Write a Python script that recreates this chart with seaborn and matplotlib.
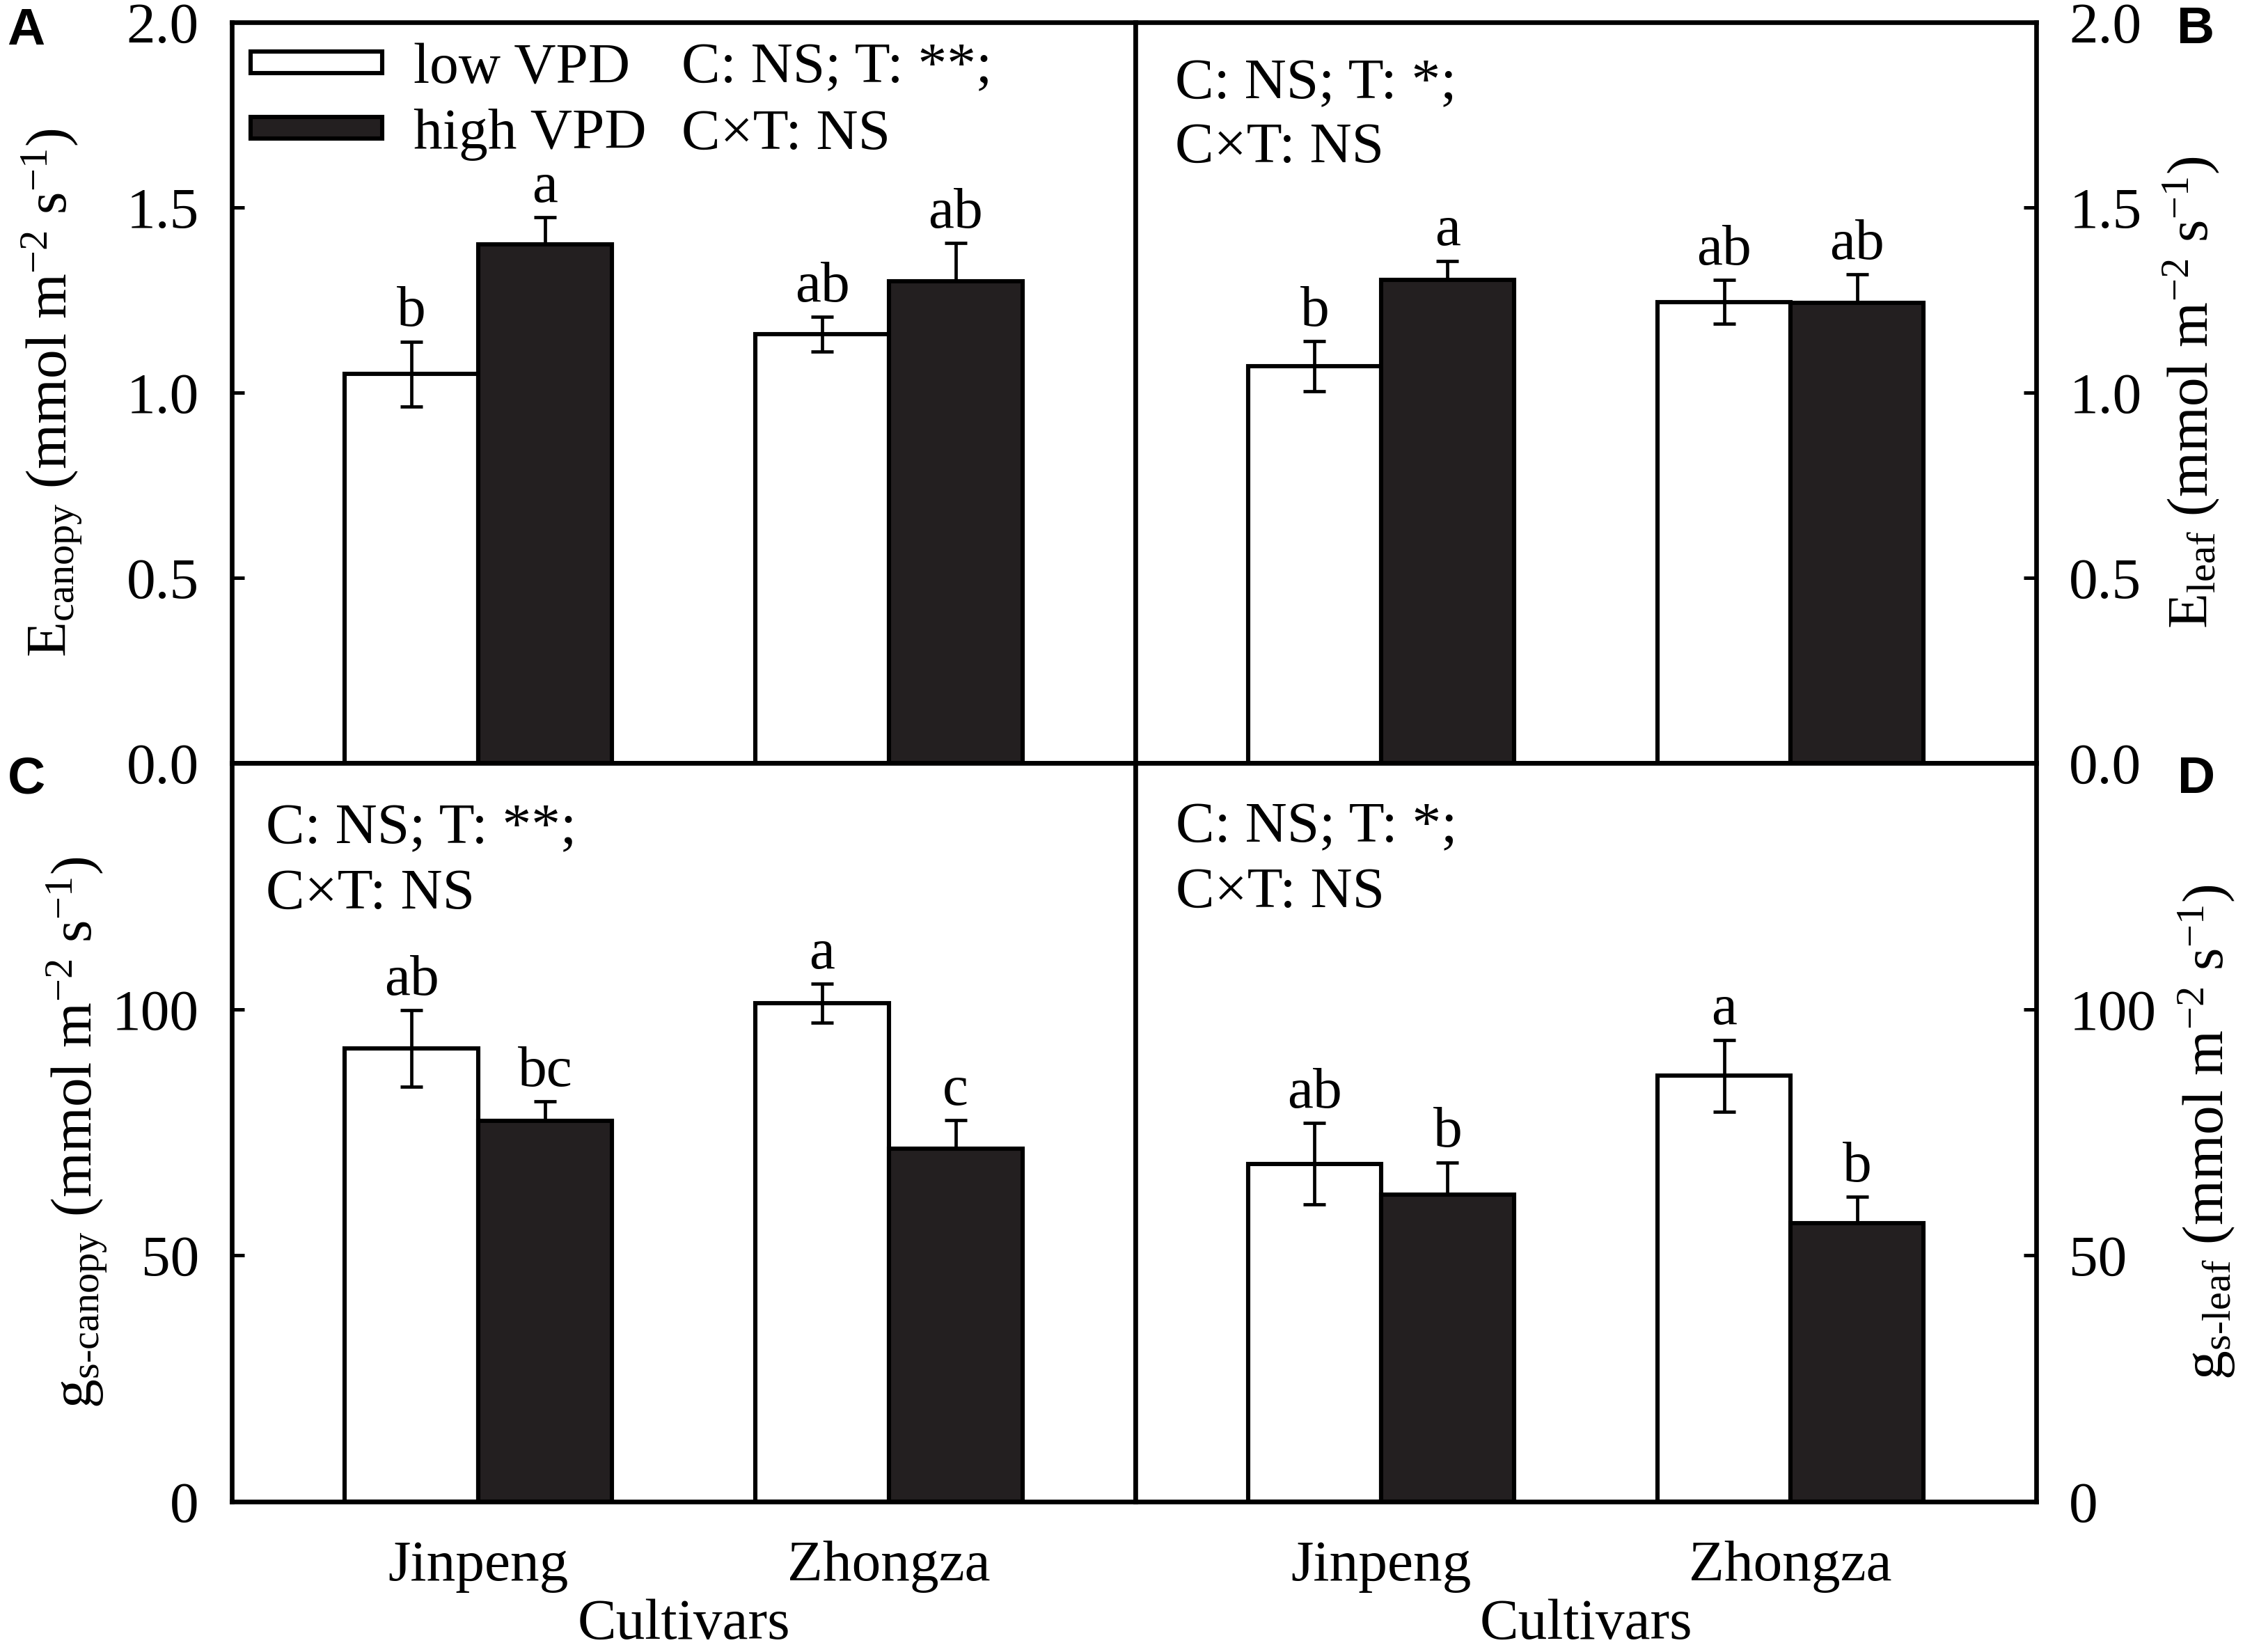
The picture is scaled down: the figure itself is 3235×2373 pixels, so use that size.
import pandas as pd
import seaborn as sns
import matplotlib.pyplot as plt
from matplotlib.ticker import FormatStrFormatter

cultivars = ['Jinpeng', 'Zhongza']
treatments = ['low VPD', 'high VPD']
bar_colors = {'low VPD': 'white', 'high VPD': '#231f20'}

# A: E canopy
e_canopy_low = [1.05, 1.157]
e_canopy_low_se = [0.088, 0.047]
e_canopy_high = [1.401, 1.301]
e_canopy_high_se = [0.073, 0.103]
e_canopy_letters_low = ['b', 'ab']
e_canopy_letters_high = ['a', 'ab']

# B: E leaf
e_leaf_low = [1.071, 1.245]
e_leaf_low_se = [0.068, 0.059]
e_leaf_high = [1.304, 1.242]
e_leaf_high_se = [0.052, 0.077]
e_leaf_letters_low = ['b', 'ab']
e_leaf_letters_high = ['a', 'ab']

# C: gs canopy
gs_canopy_low = [92.0, 101.2]
gs_canopy_low_se = [7.8, 4.0]
gs_canopy_high = [77.3, 71.7]
gs_canopy_high_se = [4.0, 5.8]
gs_canopy_letters_low = ['ab', 'a']
gs_canopy_letters_high = ['bc', 'c']

# D: gs leaf
gs_leaf_low = [68.6, 86.5]
gs_leaf_low_se = [8.3, 7.3]
gs_leaf_high = [62.4, 56.6]
gs_leaf_high_se = [6.5, 5.3]
gs_leaf_letters_low = ['ab', 'a']
gs_leaf_letters_high = ['b', 'b']

stats_two_star = ['C: NS; T: **;', 'C\u00d7T: NS']
stats_one_star = ['C: NS; T: *;', 'C\u00d7T: NS']

FS = 30

sns.set_style('ticks')
plt.rcParams['font.family'] = ['Liberation Serif', 'DejaVu Serif']
plt.rcParams['mathtext.fontset'] = 'custom'
plt.rcParams['mathtext.rm'] = 'Liberation Serif'
plt.rcParams['mathtext.it'] = 'Liberation Serif:italic'
plt.rcParams['axes.linewidth'] = 2.4
for key in ['text.color', 'axes.labelcolor', 'axes.edgecolor', 'xtick.color', 'ytick.color']:
    plt.rcParams[key] = 'black'


def draw_panel(ax, low, low_se, high, high_se, let_low, let_high, legend=False):
    df = pd.DataFrame({
        'cultivar': cultivars * 2,
        'vpd': [treatments[0]] * 2 + [treatments[1]] * 2,
        'value': low + high,
    })
    sns.barplot(data=df, x='cultivar', y='value', hue='vpd', order=cultivars,
                hue_order=treatments, palette=bar_colors, saturation=1,
                edgecolor='black', linewidth=2.2, width=0.65, errorbar=None,
                legend=legend, ax=ax)
    for cont, means, ses, letters, dark in zip(ax.containers, [low, high], [low_se, high_se],
                                               [let_low, let_high], [False, True]):
        xs = [b.get_x() + b.get_width() / 2 for b in cont]
        lower = [0] * len(ses) if dark else ses
        ax.errorbar(xs, means, yerr=[lower, ses], fmt='none', ecolor='black',
                    elinewidth=1.7, capsize=5.8, capthick=1.7, zorder=4)
        for x, m, s, t in zip(xs, means, ses, letters):
            ax.annotate(t, (x, m + s), xytext=(0, 8), textcoords='offset points',
                        ha='center', va='baseline', fontsize=FS)
    ax.set_xlim(-0.6, 1.6)
    ax.tick_params(axis='x', length=0, labelsize=FS, pad=20)
    ax.tick_params(axis='y', direction='in', length=6.5, width=1.8, pad=17, labelsize=FS)
    for sp in ax.spines.values():
        sp.set_visible(True)
        sp.set_linewidth(2.4)
        sp.set_color('black')
    ax.set_xlabel('')


fig = plt.figure(figsize=(16.175, 11.865), dpi=200)
L, M, R = 0.10294, 0.50417, 0.90417
B0, MID, T = 0.09102, 0.53814, 0.98651
axA = fig.add_axes([L, MID, M - L, T - MID])
axB = fig.add_axes([M, MID, R - M, T - MID])
axC = fig.add_axes([L, B0, M - L, MID - B0])
axD = fig.add_axes([M, B0, R - M, MID - B0])

draw_panel(axA, e_canopy_low, e_canopy_low_se, e_canopy_high, e_canopy_high_se,
           e_canopy_letters_low, e_canopy_letters_high, legend=True)
draw_panel(axB, e_leaf_low, e_leaf_low_se, e_leaf_high, e_leaf_high_se,
           e_leaf_letters_low, e_leaf_letters_high)
draw_panel(axC, gs_canopy_low, gs_canopy_low_se, gs_canopy_high, gs_canopy_high_se,
           gs_canopy_letters_low, gs_canopy_letters_high)
draw_panel(axD, gs_leaf_low, gs_leaf_low_se, gs_leaf_high, gs_leaf_high_se,
           gs_leaf_letters_low, gs_leaf_letters_high)

for ax in (axA, axB):
    ax.set_ylim(0, 2.0)
    ax.set_yticks([0, 0.5, 1.0, 1.5, 2.0])
    ax.yaxis.set_major_formatter(FormatStrFormatter('%.1f'))
    ax.tick_params(axis='x', labelbottom=False)
for ax in (axC, axD):
    ax.set_ylim(0, 150)
    ax.set_yticks([0, 50, 100])
    ax.set_xlabel('Cultivars', fontsize=FS)
    ax.xaxis.set_label_coords(0.5, -0.131)
for ax in (axB, axD):
    ax.yaxis.tick_right()
    ax.yaxis.set_label_position('right')

unit = r' (mmol m$^{\mathrm{-2}}$ s$^{\mathrm{-1}}$)'
axA.set_ylabel(r'E$_{\mathrm{canopy}}$' + unit, fontsize=FS)
axA.yaxis.set_label_coords(-0.164, 0.5)
axB.set_ylabel(r'E$_{\mathrm{leaf}}$' + unit, fontsize=FS, rotation=90)
axB.yaxis.set_label_coords(1.139, 0.5)
axC.set_ylabel('g$_{\\mathrm{s\u2010canopy}}$' + unit, fontsize=FS)
axC.yaxis.set_label_coords(-0.136, 0.5)
axD.set_ylabel('g$_{\\mathrm{s\u2010leaf}}$' + unit, fontsize=FS, rotation=90)
axD.yaxis.set_label_coords(1.156, 0.5)

handles, labels = axA.get_legend_handles_labels()
axA.legend(handles, labels, loc='upper left', bbox_to_anchor=(0.0208, 0.9718),
           frameon=False, fontsize=FS, handlelength=2.27, handleheight=0.2,
           handletextpad=0.54, labelspacing=0.22, borderpad=0, borderaxespad=0)

stat_pos = [(axA, stats_two_star, 0.4977, 0.919, 0.829),
            (axB, stats_one_star, 0.044, 0.8976, 0.811),
            (axC, stats_two_star, 0.0377, 0.891, 0.803),
            (axD, stats_one_star, 0.045, 0.893, 0.805)]
for ax, lines, x, y1, y2 in stat_pos:
    ax.text(x, y1, lines[0], transform=ax.transAxes, fontsize=FS, va='baseline')
    ax.text(x, y2, lines[1], transform=ax.transAxes, fontsize=FS, va='baseline')

W, H = 3235, 2373
for lab, px, py in [('A', 10, 64), ('B', 3127, 62), ('C', 11, 1139), ('D', 3128, 1139)]:
    fig.text(px / W, 1 - py / H, lab, fontsize=27, fontweight='bold',
             family='Liberation Sans', ha='left', va='baseline')

fig.savefig('out.png', dpi=200)
